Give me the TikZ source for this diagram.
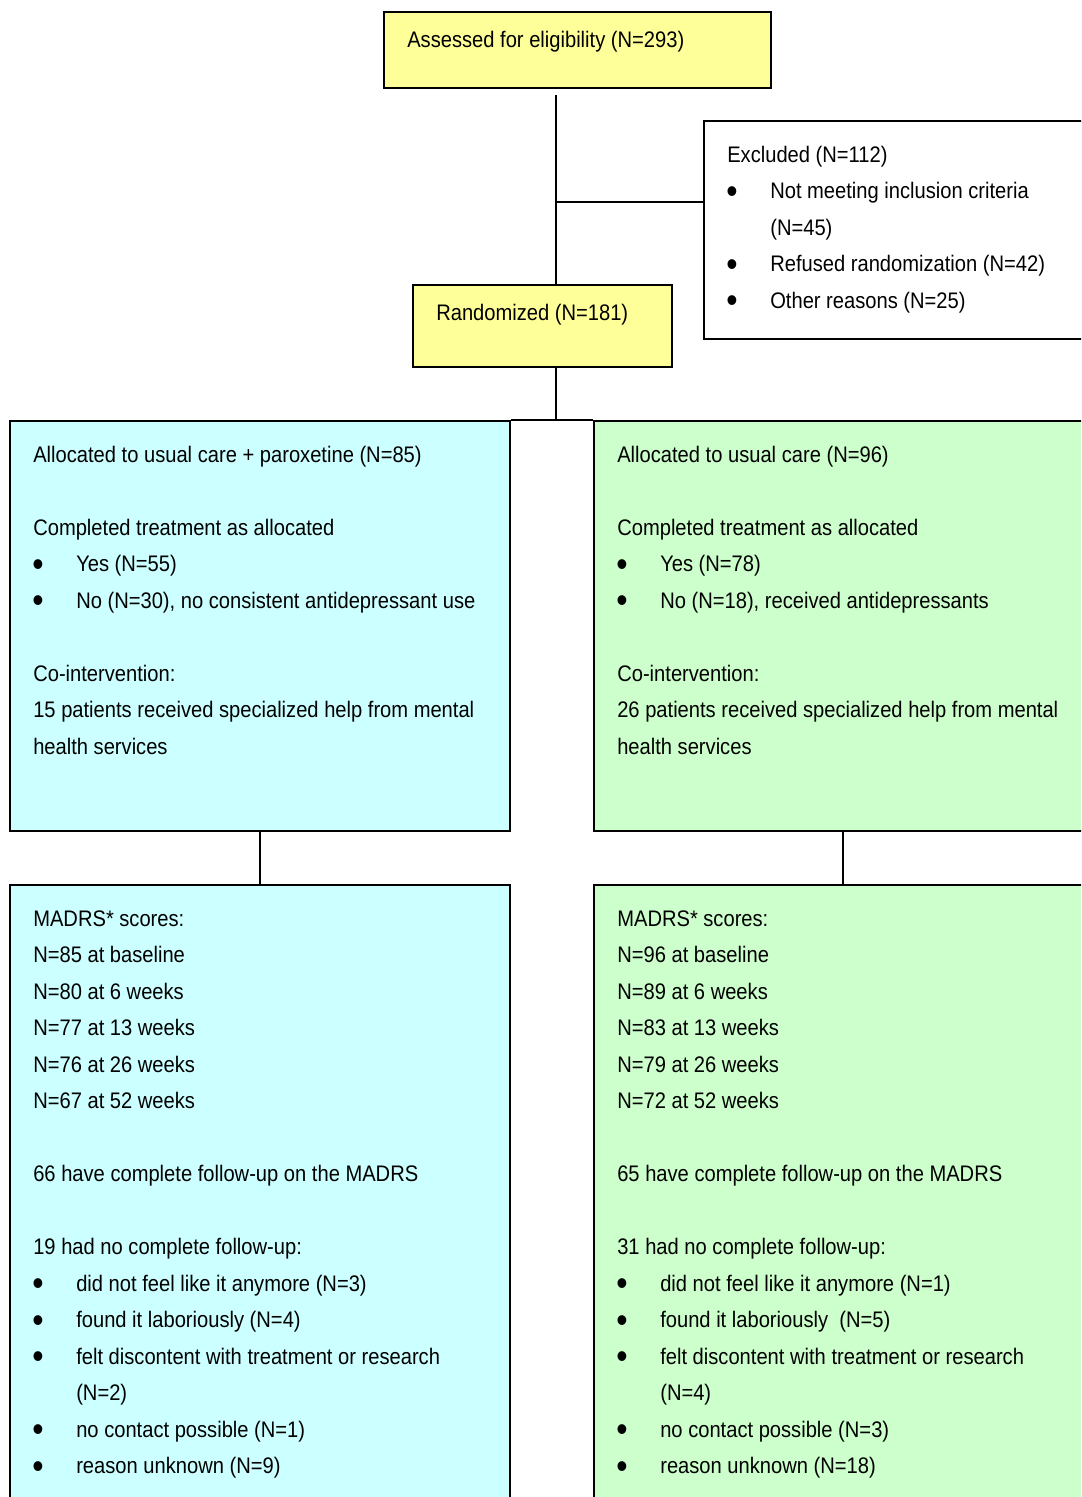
\documentclass[tikz,border=0pt]{standalone}
\usepackage{fontspec}
\setmainfont[FakeStretch=0.895]{Liberation Sans}
\usepackage{xcolor}
\usepackage{graphicx}
\usepackage{tikz}
\usetikzlibrary{positioning}

\newlength{\px}
\setlength{\px}{0.025cm}
\newcommand{\bul}{\makebox[43\px][l]{\hspace*{-1\px}\raisebox{-3.2pt}{\scalebox{1.6}{\textbullet}}}}
\newcommand{\cont}{\hspace*{43\px}}
\newcommand{\topstrut}{\rule{0pt}{18\px}}
\newcommand{\blank}{\\[25.96pt]}

\begin{document}
\begin{tikzpicture}[x=0.025cm, y=-0.025cm,
        box/.style={draw=black, line width=1.4pt, anchor=north west, inner sep=0pt},
        ybox/.style={box, fill=screening},
        pbox/.style={box, fill=paroxetine},
        ubox/.style={box, fill=usualcare},
        wbox/.style={box, fill=white},
        txt/.style={anchor=north west, align=left, inner sep=0pt, font=\fontsize{16}{25.96}\selectfont},
        link/.style={line width=1.4pt}]

        % Define colors
        \definecolor{screening}{RGB}{255,255,153}
        \definecolor{paroxetine}{RGB}{204,255,255}
        \definecolor{usualcare}{RGB}{204,255,204}

        \clip (0,0) rectangle (1081,1497);

        % Enrolment
        \node[ybox, minimum width=387\px, minimum height=76\px] (assessed) at (383,11) {};
        \node[txt, below right=0.45cm and 0.6cm of assessed.north west] (assessedtext)
            {\topstrut Assessed for eligibility (N=293)};

        \node[wbox, minimum width=400\px, minimum height=218\px] (excluded) at (703,120) {};
        \node[txt, below right=0.6cm and 0.6cm of excluded.north west] (excludedtext)
            {\topstrut Excluded (N=112)\\
             \bul Not meeting inclusion criteria\\
             \cont (N=45)\\
             \bul Refused randomization (N=42)\\
             \bul Other reasons (N=25)};

        \node[ybox, minimum width=259\px, minimum height=82\px] (randomized) at (412,284) {};
        \node[txt, below right=0.45cm and 0.6cm of randomized.north west] (randomizedtext)
            {\topstrut Randomized (N=181)};

        % Allocation
        \node[pbox, minimum width=500\px, minimum height=410\px] (parox) at (9,420) {};
        \node[txt, below right=0.6cm and 0.6cm of parox.north west] (paroxtext)
            {\topstrut Allocated to usual care + paroxetine (N=85)\blank
             Completed treatment as allocated\\
             \bul Yes (N=55)\\
             \bul No (N=30), no consistent antidepressant use\blank
             Co-intervention:\\
             15 patients received specialized help from mental\\
             health services};

        \node[ubox, minimum width=498\px, minimum height=410\px] (usual) at (593,420) {};
        \node[txt, below right=0.6cm and 0.6cm of usual.north west] (usualtext)
            {\topstrut Allocated to usual care (N=96)\blank
             Completed treatment as allocated\\
             \bul Yes (N=78)\\
             \bul No (N=18), received antidepressants\blank
             Co-intervention:\\
             26 patients received specialized help from mental\\
             health services};

        % Follow-up
        \node[pbox, minimum width=500\px, minimum height=640\px] (paroxfu) at (9,884) {};
        \node[txt, below right=0.6cm and 0.6cm of paroxfu.north west] (paroxfutext)
            {\topstrut MADRS* scores:\\
             N=85 at baseline\\
             N=80 at 6 weeks\\
             N=77 at 13 weeks\\
             N=76 at 26 weeks\\
             N=67 at 52 weeks\blank
             66 have complete follow-up on the MADRS\blank
             19 had no complete follow-up:\\
             \bul did not feel like it anymore (N=3)\\
             \bul found it laboriously (N=4)\\
             \bul felt discontent with treatment or research\\
             \cont (N=2)\\
             \bul no contact possible (N=1)\\
             \bul reason unknown (N=9)};

        \node[ubox, minimum width=498\px, minimum height=640\px] (usualfu) at (593,884) {};
        \node[txt, below right=0.6cm and 0.6cm of usualfu.north west] (usualfutext)
            {\topstrut MADRS* scores:\\
             N=96 at baseline\\
             N=89 at 6 weeks\\
             N=83 at 13 weeks\\
             N=79 at 26 weeks\\
             N=72 at 52 weeks\blank
             65 have complete follow-up on the MADRS\blank
             31 had no complete follow-up:\\
             \bul did not feel like it anymore (N=1)\\
             \bul found it laboriously~~(N=5)\\
             \bul felt discontent with treatment or research\\
             \cont (N=4)\\
             \bul no contact possible (N=3)\\
             \bul reason unknown (N=18)};

        % Connectors
        \coordinate (branch) at (556,202);
        \draw[link, shorten <=6\px] (branch |- assessed.south) -- (branch |- randomized.north);
        \draw[link] (branch) -- (branch -| excluded.west);
        \draw[link] (branch |- randomized.south) -- (branch |- parox.north);
        \draw[link] (parox.north east) -- (usual.north west);
        \draw[link] (parox.south) -- (paroxfu.north);
        \draw[link] (usual.south) -- (usualfu.north);

    \end{tikzpicture}
\end{document}
